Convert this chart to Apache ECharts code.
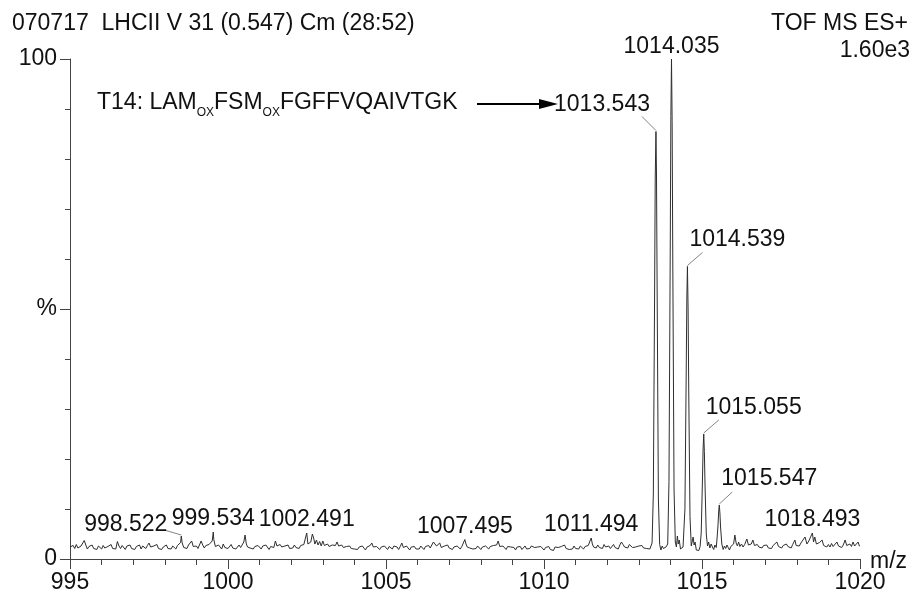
<!DOCTYPE html>
<html><head><meta charset="utf-8">
<script src="https://cdn.jsdelivr.net/npm/echarts@6/dist/echarts.min.js"></script>
<style>html,body{margin:0;padding:0;background:#fff}#c{width:912px;height:597px}</style>
</head><body><div id="c"></div>
<script>
// ---------- data (m/z, relative intensity %) ----------
const spec995 = [[995.00,2.4],[995.05,2.0],[995.10,2.7],[995.15,2.1],[995.20,2.9],[995.25,2.2],[995.30,1.9],[995.35,2.6],[995.40,2.3],[995.45,3.7],[995.50,2.8],[995.55,2.0],[995.60,2.5],[995.65,2.2],[995.70,2.8],[995.75,2.1],[995.80,2.4],[995.85,1.9],[995.90,2.6],[995.95,2.3],
[996.00,2.0],[996.05,2.7],[996.10,2.2],[996.15,1.8],[996.20,2.5],[996.25,2.3],[996.30,2.9],[996.35,2.1],[996.40,2.4],[996.45,2.0],[996.50,3.5],[996.55,2.6],[996.60,2.1],[996.65,2.7],[996.70,2.3],[996.75,1.9],[996.80,2.6],[996.85,2.2],[996.90,2.8],[996.95,2.1],
[997.00,2.4],[997.05,1.9],[997.10,2.5],[997.15,2.2],[997.20,2.8],[997.25,2.0],[997.30,2.6],[997.35,2.3],[997.40,2.1],[997.45,2.7],[997.50,3.2],[997.55,2.4],[997.60,2.0],[997.65,2.6],[997.70,2.2],[997.75,2.9],[997.80,2.1],[997.85,2.5],[997.90,1.9],[997.95,2.4],
[998.00,2.2],[998.05,2.8],[998.10,2.1],[998.15,2.5],[998.20,2.0],[998.25,2.6],[998.30,2.3],[998.35,2.0],[998.40,2.7],[998.45,2.4],[998.50,3.3],[998.522,4.6],[998.55,3.2],[998.60,2.3],[998.65,2.6],[998.70,2.1],[998.75,2.8],[998.80,2.4],[998.85,3.6],[998.90,2.5],[998.95,2.2],
[999.00,2.6],[999.05,2.1],[999.10,2.5],[999.15,3.6],[999.20,2.8],[999.25,2.2],[999.30,2.7],[999.35,2.3],[999.40,2.9],[999.45,2.6],[999.50,3.6],[999.534,5.4],[999.55,3.9],[999.60,2.5],[999.65,2.2],[999.70,2.8],[999.75,2.4],[999.80,2.0],[999.85,3.0],[999.90,2.3],[999.95,2.6]];
const spec1000 = [[1000.00,2.1],[1000.05,2.5],[1000.10,2.9],[1000.15,2.2],[1000.20,2.6],[1000.25,2.0],[1000.30,2.4],[1000.35,2.8],[1000.40,2.3],[1000.45,2.7],[1000.50,3.4],[1000.54,4.8],[1000.58,3.0],[1000.62,2.4],[1000.65,2.8],[1000.70,2.2],[1000.75,2.6],[1000.80,2.0],[1000.85,2.5],[1000.90,2.2],[1000.95,2.7],
[1001.00,2.3],[1001.05,2.0],[1001.10,2.6],[1001.15,2.2],[1001.20,2.8],[1001.25,2.4],[1001.30,1.9],[1001.35,2.5],[1001.40,2.7],[1001.45,2.3],[1001.50,3.6],[1001.55,2.6],[1001.60,2.2],[1001.65,2.9],[1001.70,2.4],[1001.75,2.0],[1001.80,2.6],[1001.85,2.3],[1001.90,2.8],[1001.95,2.1],
[1002.00,2.5],[1002.05,2.2],[1002.10,2.8],[1002.15,2.3],[1002.20,2.6],[1002.25,2.1],[1002.30,2.7],[1002.35,2.4],[1002.40,2.9],[1002.45,3.2],[1002.491,5.2],[1002.53,3.0],[1002.57,2.6],[1002.62,3.4],[1002.67,5.0],[1002.71,4.2],[1002.75,3.0],[1002.80,3.8],[1002.85,2.8],[1002.90,3.5],[1002.95,2.6],
[1003.00,3.6],[1003.05,2.7],[1003.10,2.4],[1003.15,3.0],[1003.20,2.5],[1003.25,2.2],[1003.30,2.8],[1003.35,2.4],[1003.40,2.7],[1003.45,3.4],[1003.50,2.6],[1003.55,2.2],[1003.60,2.8],[1003.65,2.3],[1003.70,2.0],[1003.75,2.5],[1003.80,2.2],[1003.85,2.6],[1003.90,2.1],[1003.95,2.4],
[1004.00,2.0],[1004.05,2.3],[1004.10,1.9],[1004.15,2.4],[1004.20,2.1],[1004.25,2.6],[1004.30,2.2],[1004.35,1.8],[1004.40,2.4],[1004.45,2.2],[1004.50,2.7],[1004.55,3.2],[1004.60,2.4],[1004.65,2.1],[1004.70,2.5],[1004.75,2.2],[1004.80,1.9],[1004.85,2.4],[1004.90,2.1],[1004.95,2.6]];
const spec1005 = [[1005.00,2.2],[1005.05,1.9],[1005.10,2.5],[1005.15,2.3],[1005.20,2.0],[1005.25,2.6],[1005.30,2.2],[1005.35,2.4],[1005.40,1.9],[1005.45,2.5],[1005.50,3.2],[1005.55,2.3],[1005.60,2.0],[1005.65,2.6],[1005.70,2.2],[1005.75,1.8],[1005.80,2.4],[1005.85,2.1],[1005.90,2.5],[1005.95,2.0],
[1006.00,2.3],[1006.05,2.0],[1006.10,2.6],[1006.15,2.2],[1006.20,1.9],[1006.25,2.5],[1006.30,2.1],[1006.35,2.7],[1006.40,2.2],[1006.45,2.4],[1006.50,3.4],[1006.55,3.8],[1006.60,2.6],[1006.65,2.2],[1006.70,3.2],[1006.75,2.3],[1006.80,2.0],[1006.85,2.6],[1006.90,2.2],[1006.95,2.8],
[1007.00,2.2],[1007.05,2.5],[1007.10,1.9],[1007.15,2.4],[1007.20,2.1],[1007.25,2.6],[1007.30,2.3],[1007.35,2.0],[1007.40,2.5],[1007.45,2.7],[1007.495,3.9],[1007.53,3.0],[1007.57,2.4],[1007.60,2.8],[1007.65,2.2],[1007.70,2.6],[1007.75,2.0],[1007.80,2.4],[1007.85,2.1],[1007.90,2.6],[1007.95,2.2],
[1008.00,1.9],[1008.05,2.4],[1008.10,2.1],[1008.15,2.6],[1008.20,2.2],[1008.25,2.0],[1008.30,2.5],[1008.35,2.2],[1008.40,2.7],[1008.45,2.3],[1008.50,2.8],[1008.55,3.6],[1008.60,2.5],[1008.65,2.1],[1008.70,2.6],[1008.75,2.2],[1008.80,1.9],[1008.85,2.5],[1008.90,2.1],[1008.95,2.4],
[1009.00,2.0],[1009.05,2.3],[1009.10,1.8],[1009.15,2.4],[1009.20,2.1],[1009.25,2.5],[1009.30,1.9],[1009.35,2.2],[1009.40,2.6],[1009.45,2.0],[1009.50,2.3],[1009.55,2.1],[1009.60,2.6],[1009.65,3.0],[1009.70,2.3],[1009.75,1.9],[1009.80,2.4],[1009.85,2.0],[1009.90,2.5],[1009.95,2.1]];
const spec1010 = [[1010.00,1.8],[1010.05,2.3],[1010.10,2.0],[1010.15,2.5],[1010.20,1.9],[1010.25,2.2],[1010.30,1.7],[1010.35,2.4],[1010.40,2.0],[1010.45,2.3],[1010.50,1.9],[1010.55,2.5],[1010.60,2.2],[1010.65,2.8],[1010.70,2.1],[1010.75,2.4],[1010.80,1.9],[1010.85,2.3],[1010.90,2.0],[1010.95,2.6],
[1011.00,2.1],[1011.05,2.4],[1011.10,2.0],[1011.15,2.6],[1011.20,2.3],[1011.25,2.0],[1011.30,2.5],[1011.35,2.2],[1011.40,2.7],[1011.45,2.9],[1011.494,4.2],[1011.53,3.0],[1011.57,2.4],[1011.60,2.7],[1011.65,2.2],[1011.70,2.8],[1011.75,2.3],[1011.80,2.6],[1011.85,2.1],[1011.90,2.9],[1011.95,2.4],
[1012.00,2.2],[1012.05,2.6],[1012.10,2.1],[1012.15,2.5],[1012.20,2.9],[1012.25,2.3],[1012.30,2.6],[1012.35,2.0],[1012.40,2.8],[1012.45,3.4],[1012.50,2.9],[1012.55,2.4],[1012.60,2.7],[1012.65,2.2],[1012.70,2.9],[1012.75,2.5],[1012.80,2.3],[1012.85,2.7],[1012.90,2.4],[1012.95,2.2],
[1013.00,2.6],[1013.05,2.3],[1013.10,2.7],[1013.15,2.2],[1013.20,2.5],[1013.25,2.1],[1013.30,2.4]];
const specCluster = [[1013.35,2.0],[1013.38,2.4],[1013.42,3.2],[1013.46,13.0],[1013.50,53.0],[1013.52,76.0],[1013.543,85.5],[1013.56,77.0],[1013.58,54.0],[1013.62,12.0],[1013.66,2.9],[1013.70,1.8],[1013.74,2.6],[1013.78,2.1],[1013.82,1.7],[1013.86,2.4],[1013.89,2.0],
[1013.915,3.0],[1013.955,15.5],[1013.995,62.0],[1014.015,88.5],[1014.035,100.0],[1014.055,87.5],[1014.075,60.0],[1014.115,14.0],[1014.155,3.4],[1014.19,2.4],[1014.22,4.6],[1014.25,3.0],[1014.28,3.8],[1014.32,2.0],[1014.36,1.8],[1014.40,2.4],
[1014.42,2.8],[1014.46,10.0],[1014.50,37.0],[1014.52,52.0],[1014.539,58.5],[1014.56,50.0],[1014.58,34.0],[1014.62,8.5],[1014.66,2.6],[1014.69,3.0],[1014.72,4.4],[1014.75,2.8],[1014.78,3.4],[1014.82,1.8],[1014.86,2.0],[1014.90,1.7],[1014.94,2.5],
[1014.975,5.2],[1015.015,16.0],[1015.035,22.0],[1015.055,25.0],[1015.075,21.5],[1015.095,15.0],[1015.135,5.0],[1015.175,2.6],[1015.21,3.4],[1015.25,2.2],[1015.29,3.0],[1015.33,2.4],[1015.37,1.9],[1015.41,2.8],[1015.45,2.3],
[1015.47,3.6],[1015.507,6.8],[1015.527,9.4],[1015.547,10.8],[1015.567,9.2],[1015.587,6.4],[1015.627,3.0],[1015.67,1.9],[1015.71,2.6],[1015.75,2.1],[1015.79,2.8],[1015.83,2.3],[1015.87,1.8],[1015.91,2.5],[1015.95,2.2],[1016.00,3.0]];
const spec1016 = [[1016.04,4.8],[1016.08,3.2],[1016.12,2.6],[1016.16,3.4],[1016.20,2.5],[1016.25,3.0],[1016.30,2.4],[1016.35,2.9],[1016.42,4.0],[1016.47,2.8],[1016.52,2.5],[1016.56,3.0],[1016.61,3.8],[1016.66,2.7],[1016.70,2.3],[1016.75,2.9],[1016.80,2.4],[1016.85,2.8],[1016.90,2.2],[1016.95,2.7],
[1017.00,2.3],[1017.05,2.8],[1017.10,2.2],[1017.15,2.6],[1017.20,2.1],[1017.25,2.7],[1017.30,2.4],[1017.37,3.4],[1017.42,2.5],[1017.47,2.9],[1017.52,2.2],[1017.57,2.7],[1017.62,2.3],[1017.67,3.0],[1017.72,2.5],[1017.77,2.8],[1017.82,2.2],[1017.87,2.9],[1017.94,3.8],[1017.98,2.7],
[1018.03,3.1],[1018.08,2.6],[1018.13,3.2],[1018.18,2.8],[1018.26,4.4],[1018.32,3.0],[1018.38,3.6],[1018.42,4.0],[1018.493,5.2],[1018.53,3.4],[1018.57,4.4],[1018.62,3.0],[1018.67,2.7],[1018.72,3.3],[1018.80,3.8],[1018.85,2.7],[1018.90,3.0],[1018.95,2.4],
[1019.00,2.9],[1019.05,2.4],[1019.10,3.1],[1019.15,2.5],[1019.20,2.8],[1019.27,3.4],[1019.32,2.6],[1019.37,2.9],[1019.42,2.3],[1019.47,2.8],[1019.53,3.8],[1019.58,2.7],[1019.63,2.4],[1019.68,3.0],[1019.73,2.5],[1019.78,3.4],[1019.83,2.6],[1019.88,2.9],[1019.94,3.4],[1019.98,2.6],[1020.00,2.7]];

// labelled peaks
const peakMz  = [998.522, 999.534, 1002.491, 1007.495, 1011.494, 1013.543, 1014.035, 1014.539, 1015.055, 1015.547, 1018.493];
const peakInt = [4.6, 5.4, 5.2, 3.9, 4.2, 85.5, 100.0, 58.5, 25.0, 10.8, 5.2];
const peakText = ['998.522','999.534','1002.491','1007.495','1011.494','1013.543','1014.035','1014.539','1015.055','1015.547','1018.493'];

// axis ticks
const xMin = 995, xMax = 1020, xStep = 5;
const yMin = 0, yMax = 100;
const yLabelValues = [0, 50, 100];
const yLabelTexts = ['0', '%', '100'];
const xAxisTitle = 'm/z';

// header texts
const headerLeft = '070717  LHCII V 31 (0.547) Cm (28:52)';
const headerRight1 = 'TOF MS ES+';
const headerRight2 = '1.60e3';

// ---------- styles ----------
const FONT = '"Liberation Sans", Arial, sans-serif';
const FS = 23;
const TXT = '#111';
const AX = '#444';
// per-label placement (pixel offsets from the peak apex)
const labelPlace = [
  {align:'right',  dx:-14, dy:-11, leader:[-17,-6]},
  {align:'center', dx:0,   dy:-13},
  {align:'center', dx:0,   dy:-13},
  {align:'center', dx:0,   dy:-13},
  {align:'center', dx:0,   dy:-13},
  {align:'right',  dx:-6,  dy:-27, leader:[-14,-15]},
  {align:'center', dx:0,   dy:-12},
  {align:'left',   dx:2,   dy:-27, leader:[15,-14]},
  {align:'left',   dx:2,   dy:-26, leader:[15,-14]},
  {align:'left',   dx:2,   dy:-26, leader:[13,-13]},
  {align:'center', dx:0,   dy:-13}
];

const spectrum = [].concat(spec995, spec1000, spec1005, spec1010, specCluster, spec1016);
const labelData = peakMz.map((m, i) => [m, peakInt[i]]);

const chart = echarts.init(document.getElementById('c'), null, {renderer:'canvas'});
const option = {
  animation: false,
  backgroundColor: '#fff',
  grid: {left: 70, right: 52, top: 59, bottom: 38},
  xAxis: {
    type: 'value', min: xMin, max: xMax, interval: xStep,
    axisLine: {show: true, lineStyle: {color: AX, width: 1}},
    axisTick: {show: true, length: 10, lineStyle: {color: AX, width: 1}},
    minorTick: {show: true, splitNumber: 5, length: 6, lineStyle: {color: AX, width: 1}},
    splitLine: {show: false},
    axisLabel: {fontSize: FS, fontFamily: FONT, color: TXT, margin: 12, formatter: v => String(v)}
  },
  yAxis: {
    type: 'value', min: yMin, max: yMax, interval: 50,
    axisLine: {show: true, lineStyle: {color: AX, width: 1}},
    axisTick: {show: true, length: 10, lineStyle: {color: AX, width: 1}},
    minorTick: {show: true, splitNumber: 5, length: 5, lineStyle: {color: AX, width: 1}},
    splitLine: {show: false},
    axisLabel: {fontSize: FS, fontFamily: FONT, color: TXT, margin: 13,
      formatter: v => { const k = yLabelValues.indexOf(v); return k >= 0 ? yLabelTexts[k] : ''; }}
  },
  series: [
    {
      type: 'line', data: spectrum, symbol: 'none', smooth: false,
      lineStyle: {color: '#2e2e2e', width: 1}, z: 2, silent: true
    },
    {
      type: 'custom', data: labelData, encode: {x: 0, y: 1}, z: 5, silent: true,
      renderItem: function (params, api) {
        const i = params.dataIndex;
        const p = api.coord([api.value(0), api.value(1)]);
        const st = labelPlace[i];
        const children = [];
        if (st.leader) {
          children.push({type: 'line', shape: {x1: p[0], y1: p[1] - 1, x2: p[0] + st.leader[0], y2: p[1] + st.leader[1]},
            style: {stroke: '#666', lineWidth: 0.8}});
        }
        children.push({type: 'text', x: p[0] + st.dx, y: p[1] + st.dy,
          style: {text: peakText[i], fill: TXT, font: FS + 'px ' + FONT, align: st.align, verticalAlign: 'middle',
                  textAlign: st.align, textVerticalAlign: 'middle'}});
        return {type: 'group', children: children};
      }
    }
  ],
  graphic: [
    {type: 'text', left: 12, top: 12, style: {text: headerLeft, fill: TXT, font: FS + 'px ' + FONT}},
    {type: 'text', right: 4, top: 12, style: {text: headerRight1, fill: TXT, font: FS + 'px ' + FONT}},
    {type: 'text', right: 2, top: 39, style: {text: headerRight2, fill: TXT, font: FS + 'px ' + FONT}},
    {type: 'text', left: 870, top: 550, style: {text: xAxisTitle, fill: TXT, font: FS + 'px ' + FONT}},
    {type: 'text', left: 97, top: 91, style: {
      text: '{m|T14: LAM}{s|OX}{m|FSM}{s|OX}{m|FGFFVQAIVTGK}',
      rich: {
        m: {fontSize: FS, fontFamily: FONT, fill: TXT, lineHeight: 25, verticalAlign: 'top'},
        s: {fontSize: 12, fontFamily: FONT, fill: TXT, lineHeight: 12, verticalAlign: 'top', padding: [16, 0, 0, 0]}
      }
    }},
    {type: 'line', shape: {x1: 477, y1: 104, x2: 545, y2: 104}, style: {stroke: '#000', lineWidth: 2}},
    {type: 'polygon', shape: {points: [[539, 99], [558, 104], [539, 109]]}, style: {fill: '#000'}}
  ]
};
chart.setOption(option);
</script></body></html>
